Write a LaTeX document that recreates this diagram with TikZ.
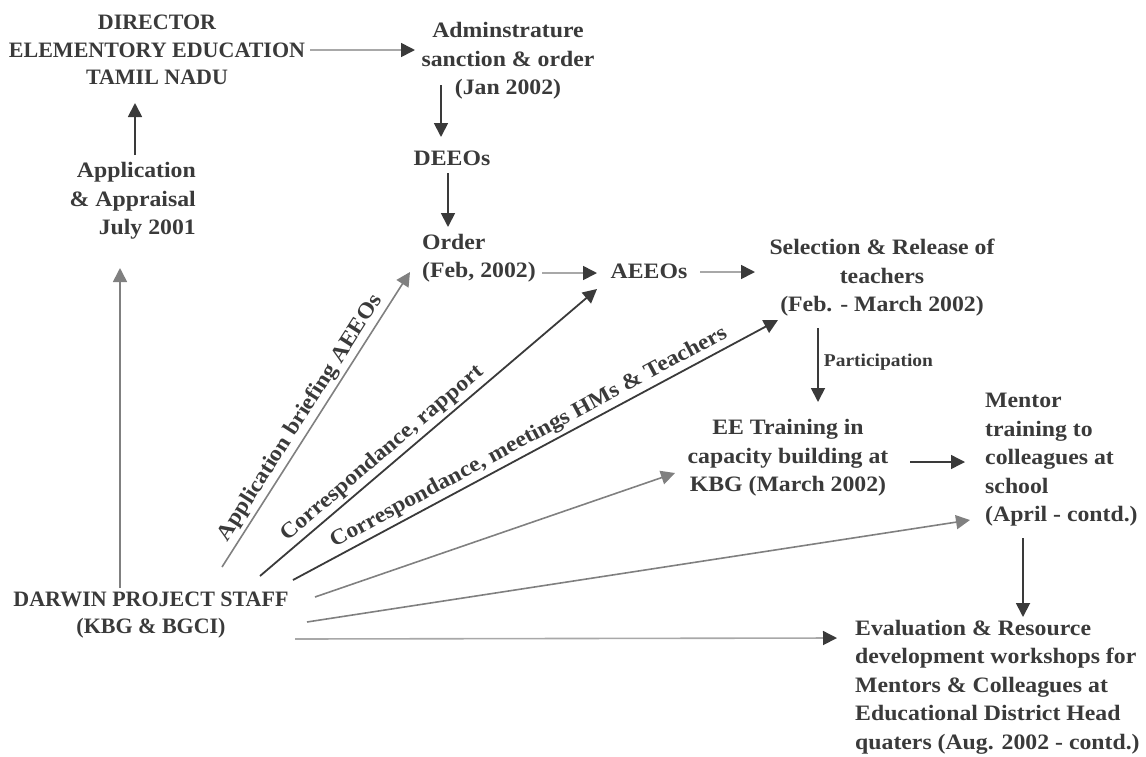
\documentclass[tikz,border=0pt]{standalone}
\usepackage{fontspec}
\setmainfont{Liberation Serif}[FakeStretch=1.08]
\newfontfamily\capsfont{Liberation Serif}
\usetikzlibrary{arrows.meta,calc}
\definecolor{ink}{HTML}{3A3A3A}
\definecolor{midgray}{HTML}{808080}
\definecolor{palegray}{HTML}{A8A8A8}
\begin{document}
\begin{tikzpicture}[x=1pt,y=-1pt,
  txt/.style={text=ink, font=\fontsize{22}{28.5}\selectfont\bfseries, inner sep=0pt, align=center},
  capstxt/.style={txt, font=\capsfont\fontsize{22}{27.5}\selectfont\bfseries},
  lbl/.style={sloped, above, text=ink, inner sep=3pt, font=\fontsize{22}{26}\selectfont\bfseries},
  smalllbl/.style={right, text=ink, inner sep=5pt, font=\fontsize{18}{20}\selectfont\bfseries},
  arr/.style={-{Triangle[length=14pt,width=14pt]}, line width=1.8pt, draw=ink},
  garr/.style={-{Triangle[length=14pt,width=14pt]}, line width=1.6pt, draw=midgray},
  larr/.style={-{Triangle[length=14pt,width=14pt,color=ink]}, line width=1.6pt, draw=palegray}
]
\useasboundingbox (0,0) rectangle (1146,756);

% nodes
\node[capstxt] (dir) at (157,50) {DIRECTOR\\ELEMENTORY EDUCATION\\TAMIL NADU};
\node[txt] (adm) at (508,61) {Adminstrature\\sanction \& order\\(Jan 2002)};
\node[txt] (deeos) at (452,158) {DEEOs};
\node[txt, anchor=west, align=left] (order) at (422,258) {Order\\(Feb, 2002)};
\node[txt] (aeeos) at (649,271) {AEEOs};
\node[txt] (sel) at (882,278) {Selection \& Release of\\teachers\\(Feb. - March 2002)};
\node[txt] (ee) at (788,458) {EE Training in\\capacity building at\\KBG (March 2002)};
\node[txt, anchor=west, align=left] (mentor) at (985,460) {Mentor\\training to\\colleagues at\\school\\(April - contd.)};
\node[txt, anchor=west, align=left] (eval) at (855,687) {Evaluation \& Resource\\development workshops for\\Mentors \& Colleagues at\\Educational District Head\\quaters (Aug. 2002 - contd.)};
\node[txt, anchor=east, align=right] (appl) at (196,201) {Application\\\& Appraisal\\July 2001};
\node[capstxt] (darwin) at (151,615) {DARWIN PROJECT STAFF\\(KBG \& BGCI)};

% main chain
\draw[larr] ([shift={(153,0)}]dir.center) -- ([shift={(-93,-11)}]adm.center);
\draw[arr] ([shift={(-67,24)}]adm.center) -- ([shift={(-11,-21)}]deeos.center);
\draw[arr] ([shift={(-4,15)}]deeos.center) -- ([shift={(26,-31)}]order.west);
\draw[arr] ([shift={(-61,-46)}]appl.east) -- ([shift={(-22,53)}]dir.center);
\draw[garr] ([shift={(-31,-27)}]darwin.center) -- ([shift={(-76,67)}]appl.east);
\draw[larr] ([shift={(120,15)}]order.west) -- ([shift={(-52,2)}]aeeos.center);
\draw[larr] ([shift={(51,1)}]aeeos.center) -- ([shift={(-127,-6)}]sel.center);
\draw[arr] ([shift={(-64,50)}]sel.center) -- node[pos=0.46, smalllbl] {Participation} ([shift={(30,-56)}]ee.center);
\draw[arr, line width=1.4pt] ([shift={(122,4)}]ee.center) -- ([shift={(-20,2)}]mentor.west);
\draw[arr] ([shift={(38,78)}]mentor.west) -- ([shift={(168,-70)}]eval.west);

% fan from Darwin project staff
\draw[garr] ([shift={(71,-48)}]darwin.center) -- node[lbl, pos=0.48] {Application briefing AEEOs} ([shift={(-12,14)}]order.west);
\draw[arr] ([shift={(109,-39)}]darwin.center) -- node[lbl, pos=0.39] {Correspondance, rapport} ([shift={(-52,18)}]aeeos.center);
\draw[arr] ([shift={(142,-35)}]darwin.center) -- node[lbl, pos=0.50] {Correspondance, meetings HMs \& Teachers} ([shift={(-104,42)}]sel.center);
\draw[garr] ([shift={(164,-18)}]darwin.center) -- ([shift={(-113,15)}]ee.center);
\draw[garr] ([shift={(156,7)}]darwin.center) -- ([shift={(-15,60)}]mentor.west);
\draw[larr] ([shift={(144,24)}]darwin.center) -- ([shift={(-18,-49)}]eval.west);
\end{tikzpicture}
\end{document}
